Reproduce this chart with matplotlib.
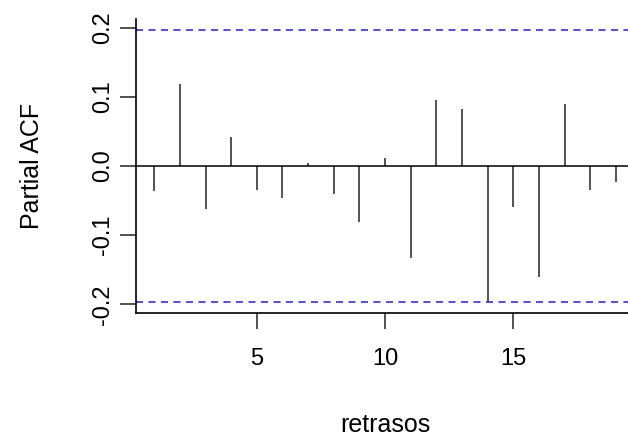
import matplotlib
matplotlib.use("Agg")
import matplotlib.pyplot as plt

# PACF values (lags 1..19)
lags = list(range(1, 20))
pacf = [-0.036, 0.118, -0.062, 0.042, -0.035, -0.047, 0.005, -0.041, -0.081,
        0.012, -0.133, 0.096, 0.082, -0.197, -0.059, -0.160, 0.089, -0.035, -0.023]
conf = 0.197  # confidence bound
xticks = [5, 10, 15]
yticks = [-0.2, -0.1, 0.0, 0.1, 0.2]
ytick_labels = ["-0.2", "-0.1", "0.0", "0.1", "0.2"]

plt.rcParams['font.family'] = ['Liberation Sans', 'DejaVu Sans']
plt.rcParams['font.size'] = 17

fig = plt.figure(figsize=(6.28, 4.37), dpi=100)
ax = fig.add_axes([0.2161, 0.2838, 0.7943, 0.6728])

ax.vlines(lags, 0, pacf, color='#444444', lw=1.3)
ax.axhline(0, color='black', lw=1.1)
ax.axhline(conf, color='#3333cc', lw=1.2, ls=(0, (4.2, 3.3)))
ax.axhline(-conf, color='#3333cc', lw=1.2, ls=(0, (4.2, 3.3)))

ax.set_xlim(0.28, 19.72)
ax.set_ylim(-0.2125, 0.2125)
ax.spines['top'].set_visible(False)
ax.spines['right'].set_visible(False)
for s in ['left', 'bottom']:
    ax.spines[s].set_linewidth(1.2)

ax.set_xticks(xticks)
ax.set_yticks(yticks)
ax.set_yticklabels(ytick_labels, rotation=90, va='center')
ax.tick_params(axis='both', direction='out', length=11.5, width=1.1, color='#222222')
ax.tick_params(axis='x', pad=14)
ax.tick_params(axis='y', pad=4)

ax.set_xlabel('retrasos', va='center', fontsize=18)
ax.xaxis.set_label_coords(0.5, -0.381)
ax.set_ylabel('Partial ACF', va='center', fontsize=18)
ax.yaxis.set_label_coords(-0.208, 0.5)

fig.savefig('out.png', dpi=100)
